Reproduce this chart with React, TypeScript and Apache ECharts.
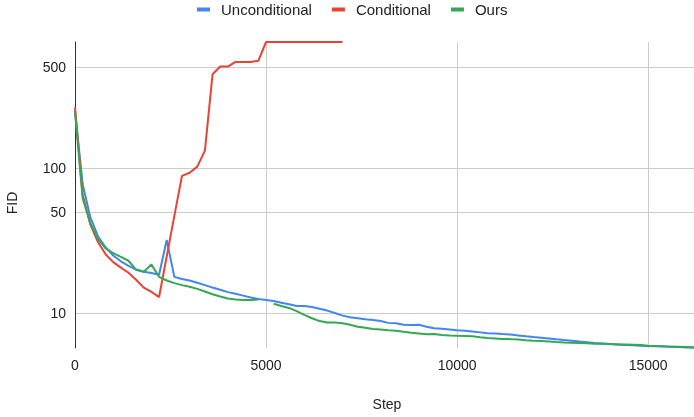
import React, { useEffect, useRef } from "react";
import * as echarts from "echarts";

// FID was evaluated every 200 training steps.
const STEP_INTERVAL = 200;

// FID per evaluation (step 0, 200, 400, ...). null = no evaluation at that step.
const unconditional: (number | null)[] = [
  250, 78, 46, 34, 28.5, 25, 22.8, 21.2, 20, 19.3,
  18.9, 18.4, 32, 17.8, 17.2, 16.8, 16.2, 15.6, 15.0, 14.5,
  13.95, 13.6, 13.2, 12.8, 12.5, 12.3, 12.1, 11.8, 11.5, 11.2,
  11.2, 11.0, 10.7, 10.4, 10.0, 9.6, 9.35, 9.2, 9.05, 8.95,
  8.8, 8.55, 8.5, 8.3, 8.25, 8.3, 8.05, 7.85, 7.8, 7.7,
  7.6, 7.55, 7.45, 7.35, 7.25, 7.22, 7.15, 7.1, 7.0, 6.9,
  6.82, 6.75, 6.67, 6.58, 6.5, 6.43, 6.35, 6.28, 6.2, 6.15,
  6.1, 6.07, 6.02, 5.98, 5.95, 5.92, 5.9, 5.87, 5.85, 5.82,
  5.78, 5.76,
];

const conditional: (number | null)[] = [
  265, 66, 41, 31, 25.5, 22.5, 20.6, 19.0, 17.0, 15.0,
  14.0, 12.9, 24.6, 47, 89, 93.5, 103, 133, 449, 507,
  507, 546, 546, 546, 557, 750, 750, 750, 750, 750,
  750, 750, 750, 750, 750, 750,
];

const ours: (number | null)[] = [
  245, 62, 42, 32.5, 28, 26, 24.5, 23, 19.9, 19.3,
  21.7, 17.8, 16.8, 16.1, 15.6, 15.2, 14.7, 14.1, 13.5, 13.0,
  12.6, 12.4, 12.3, 12.3, 12.4, null, 11.6, 11.2, 10.85, 10.3,
  9.7, 9.2, 8.8, 8.6, 8.6, 8.5, 8.3, 8.05, 7.9, 7.75,
  7.7, 7.6, 7.55, 7.42, 7.3, 7.22, 7.12, 7.15, 7.05, 7.0,
  6.97, 6.95, 6.9, 6.8, 6.72, 6.67, 6.62, 6.6, 6.55, 6.48,
  6.43, 6.4, 6.36, 6.3, 6.26, 6.23, 6.2, 6.17, 6.14, 6.12,
  6.1, 6.07, 6.05, 6.03, 6.0, 5.95, 5.92, 5.9, 5.85, 5.84,
  5.82, 5.8,
];

const steps: number[] = unconditional.map((_, i) => i * STEP_INTERVAL);

const xTicks = [0, 5000, 10000, 15000];
const yTicks = [10, 50, 100, 500];

const X_MAX = 16200;
const Y_MIN = 5.73;
const Y_MAX = 750;

const FONT = "'Liberation Sans', Arial, sans-serif";
const TEXT_COLOR = "#222222";
const GRID_COLOR = "#cccccc";

// The FID axis is logarithmic: values are plotted as log10(FID) on a linear
// axis and the labels are turned back into FID values.
const lg = (v: number) => Math.log10(v);
const toPoints = (vals: (number | null)[]) =>
  vals.map((v, i) => [steps[i], v == null ? null : lg(v)]);

const seriesDefs = [
  { name: "Unconditional", color: "#4285F4", values: unconditional },
  { name: "Conditional", color: "#EA4335", values: conditional },
  { name: "Ours", color: "#34A853", values: ours },
];

export default function App() {
  const ref = useRef<HTMLDivElement>(null);

  useEffect(() => {
    if (!ref.current) return;
    const chart = echarts.init(ref.current, undefined, { renderer: "svg" });
    chart.setOption({
      animation: false,
      textStyle: { fontFamily: FONT },
      legend: {
        top: 2,
        left: 197,
        padding: 0,
        icon: "rect",
        itemWidth: 13,
        itemHeight: 4,
        itemGap: 20,
        textStyle: {
          fontSize: 15,
          color: TEXT_COLOR,
          fontFamily: FONT,
          padding: [0, 0, 0, 6],
        },
        data: seriesDefs.map((s) => s.name),
      },
      grid: { left: 75, right: 0, top: 42, bottom: 69, containLabel: false },
      xAxis: {
        type: "value",
        min: 0,
        max: X_MAX,
        axisLine: { show: false },
        axisTick: { show: false, customValues: xTicks },
        axisLabel: {
          customValues: xTicks,
          formatter: (v: number) => String(v),
          margin: 10,
          fontSize: 14,
          color: TEXT_COLOR,
          fontFamily: FONT,
        },
        splitLine: { show: true, lineStyle: { color: GRID_COLOR, width: 1 } },
      },
      yAxis: {
        type: "value",
        min: lg(Y_MIN),
        max: lg(Y_MAX),
        axisLine: { show: true, lineStyle: { color: "#333333", width: 1 } },
        axisTick: { show: false, customValues: yTicks.map(lg) },
        axisLabel: {
          customValues: yTicks.map(lg),
          formatter: (v: number) => String(Math.round(Math.pow(10, v))),
          margin: 9,
          fontSize: 14,
          color: TEXT_COLOR,
          fontFamily: FONT,
        },
        splitLine: { show: true, lineStyle: { color: GRID_COLOR, width: 1 } },
      },
      graphic: [
        {
          type: "text",
          x: 12,
          y: 203,
          rotation: Math.PI / 2,
          style: {
            text: "FID",
            fontSize: 14,
            fontFamily: FONT,
            fill: TEXT_COLOR,
            align: "center",
            verticalAlign: "middle",
          },
        },
        {
          type: "text",
          x: 387,
          y: 404,
          style: {
            text: "Step",
            fontSize: 14,
            fontFamily: FONT,
            fill: TEXT_COLOR,
            align: "center",
            verticalAlign: "middle",
          },
        },
      ],
      series: seriesDefs.map((s) => ({
        name: s.name,
        type: "line",
        data: toPoints(s.values),
        showSymbol: false,
        symbol: "none",
        connectNulls: false,
        color: s.color,
        lineStyle: { color: s.color, width: 2 },
        emphasis: { disabled: true },
      })),
    });
    return () => chart.dispose();
  }, []);

  return (
    <div
      ref={ref}
      style={{ position: "fixed", left: 0, top: 0, width: 694, height: 417 }}
    />
  );
}
